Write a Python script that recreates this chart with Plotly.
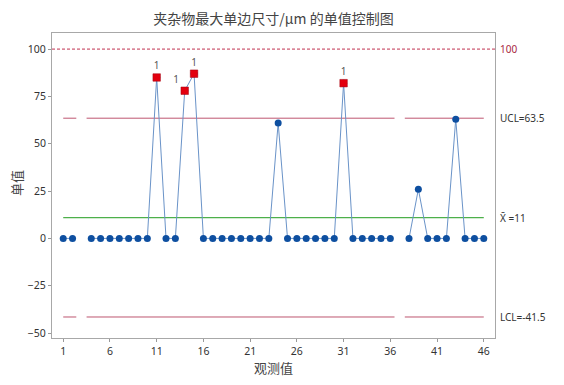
import plotly.graph_objects as go

# ---- data ----
obs = list(range(1, 47))
values = [0, 0, None, 0, 0, 0, 0, 0, 0, 0,
          85, 0, 0, 78, 87, 0, 0, 0, 0, 0,
          0, 0, 0, 61, 0, 0, 0, 0, 0, 0,
          82, 0, 0, 0, 0, 0, None, 0, 26, 0,
          0, 0, 63, 0, 0, 0]
flagged = [11, 14, 15, 31]
flag_text = ["1", "1", "1", "1"]
mean_val = 11
ucl = 63.5
lcl = -41.5
spec = 100
limit_x = [1, 2.4, None, 3.5, 36.45, None, 37.55, 46]
x_ticks = [1, 6, 11, 16, 21, 26, 31, 36, 41, 46]
y_ticks = [-50, -25, 0, 25, 50, 75, 100]
title = "夹杂物最大单边尺寸/μm 的单值控制图"
x_title = "观测值"
y_title = "单值"

FONT = "Noto Sans, Noto Sans CJK SC, sans-serif"
CJK = "Noto Sans CJK SC, sans-serif"
LIM_COLOR = "#BE5670"

# page has an 8px body margin; figure is sized to fill the rest of the window
W, H = 556, 377
ML, MR, MT, MB = 44, 69, 25, 47
PW, PH = W - ML - MR, H - MT - MB

fig = go.Figure()

# limit lines
fig.add_trace(go.Scatter(x=limit_x, y=[ucl if v is not None else None for v in limit_x],
                         mode="lines", line=dict(color=LIM_COLOR, width=1),
                         hoverinfo="skip", showlegend=False, connectgaps=False))
fig.add_trace(go.Scatter(x=limit_x, y=[lcl if v is not None else None for v in limit_x],
                         mode="lines", line=dict(color=LIM_COLOR, width=1),
                         hoverinfo="skip", showlegend=False, connectgaps=False))
fig.add_trace(go.Scatter(x=[obs[0], obs[-1]], y=[mean_val, mean_val],
                         mode="lines", line=dict(color="#4DB04A", width=1.2),
                         hoverinfo="skip", showlegend=False))

# data line + points
fig.add_trace(go.Scatter(x=obs, y=values, mode="lines+markers", connectgaps=False,
                         line=dict(color="#6A93C8", width=1),
                         marker=dict(color="#0E4FA0", size=7, symbol="circle"),
                         showlegend=False))

# flagged points
fx = flagged
fy = [values[o - 1] for o in flagged]
positions = ["top center", "top left", "top center", "top center"]
fig.add_trace(go.Scatter(x=fx, y=fy, mode="markers+text",
                         marker=dict(color="#E3000F", size=7.5, symbol="square",
                                     line=dict(color="#A00010", width=0.5)),
                         text=flag_text, textposition=positions,
                         textfont=dict(family=FONT, size=10, color="#555555"),
                         showlegend=False))

# spec line 100
fig.add_shape(type="line", xref="paper", x0=0, x1=1, yref="y", y0=spec, y1=spec,
              line=dict(color="#C0304F", width=1, dash="3px,2px"))

# right side labels
ann = [(spec, "100", "#A8283F"), (ucl, "UCL=63.5", "#333333"),
       (mean_val, "X̄ =11", "#333333"), (lcl, "LCL=-41.5", "#333333")]
for yv, txt, col in ann:
    fig.add_annotation(x=1, xref="paper", xanchor="left", xshift=3, y=yv, yref="y",
                       text=txt, showarrow=False,
                       font=dict(family=FONT, size=10, color=col))

# axis titles as annotations
fig.add_annotation(x=0.5, xref="paper", y=-(359 - (H - MB)) / PH, yref="paper",
                   yanchor="middle", text=x_title, showarrow=False,
                   font=dict(family=CJK, size=13, color="#444444"))
fig.add_annotation(x=-(ML - 8) / PW, xref="paper", xanchor="center",
                   y=1 - (175 - MT) / PH, yref="paper",
                   text=y_title, showarrow=False, textangle=-90,
                   font=dict(family=CJK, size=13, color="#444444"))

fig.update_layout(
    width=W, height=H,
    margin=dict(l=ML, r=MR, t=MT, b=MB, autoexpand=False),
    paper_bgcolor="white", plot_bgcolor="white",
    title=dict(text=title, x=0.5, xanchor="center", xref="paper",
               y=1 - 11 / H, yref="container", yanchor="middle",
               font=dict(family=CJK, size=14, color="#444444")),
    font=dict(family=FONT, size=10, color="#333333"),
)
fig.update_xaxes(range=[-0.2, 47.2], tickvals=x_ticks, ticks="outside", ticklen=3,
                 tickcolor="#999999", showline=True, linecolor="#A8A8A8", linewidth=1,
                 mirror=True, showgrid=False, zeroline=False, automargin=False,
                 tickfont=dict(size=10.5, color="#333333"))
fig.update_yaxes(range=[-52.6, 108.5], tickvals=y_ticks, ticks="outside", ticklen=3,
                 tickcolor="#999999", showline=True, linecolor="#A8A8A8", linewidth=1,
                 mirror=True, showgrid=False, zeroline=False, automargin=False,
                 tickfont=dict(size=10.5, color="#333333"))

fig.write_html("out.html")
